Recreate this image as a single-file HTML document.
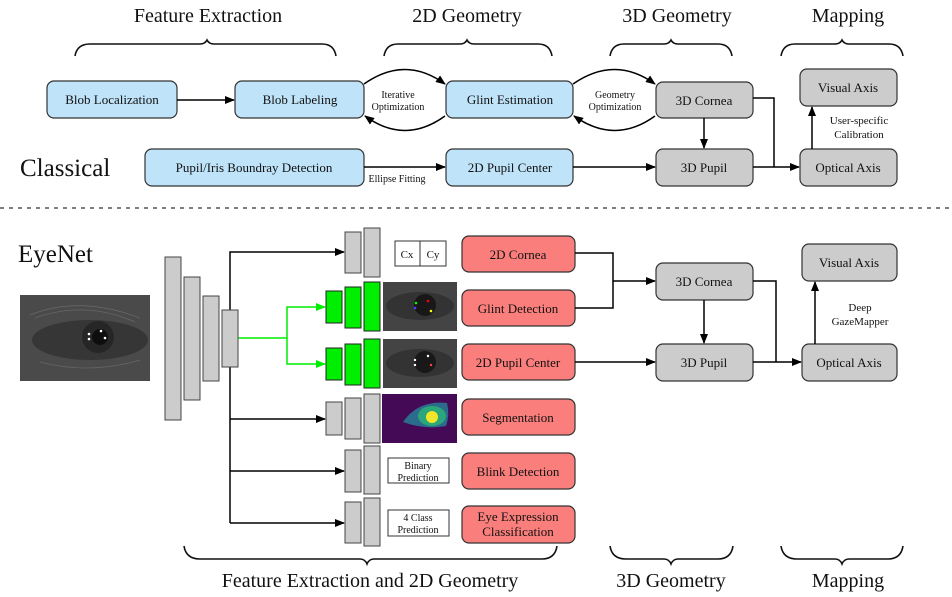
<!DOCTYPE html>
<html><head><meta charset="utf-8"><style>
html,body{margin:0;padding:0;background:#fff;}
svg{display:block;font-family:"Liberation Serif",serif;}
</style></head><body>
<svg width="952" height="597" viewBox="0 0 952 597" xmlns="http://www.w3.org/2000/svg">
<defs>
<marker id="ah" markerWidth="10" markerHeight="8" refX="9" refY="4" orient="auto" markerUnits="userSpaceOnUse"><path d="M0,0 L10,4 L0,8 z" fill="#000"/></marker>
<marker id="ag" markerWidth="10" markerHeight="8" refX="9" refY="4" orient="auto" markerUnits="userSpaceOnUse"><path d="M0,0 L10,4 L0,8 z" fill="#00ee00"/></marker>
</defs>
<g font-size="20" text-anchor="middle" fill="#111">
<text x="208" y="22">Feature Extraction</text>
<text x="467" y="22">2D Geometry</text>
<text x="677" y="22">3D Geometry</text>
<text x="848" y="22">Mapping</text>
<text x="370" y="587">Feature Extraction and 2D Geometry</text>
<text x="671" y="587">3D Geometry</text>
<text x="848" y="587">Mapping</text>
</g>
<g fill="none" stroke="#111" stroke-width="1.6">
<path d="M75,56 Q77,44 90,44 L200,44 Q205,44 207,40 Q209,44 214,44 L322,44 Q334,44 336,56"/>
<path d="M384,56 Q386,44 398,44 L460,44 Q465,44 467,40 Q469,44 474,44 L538,44 Q550,44 552,56"/>
<path d="M610,56 Q612,44 624,44 L664,44 Q669,44 671,40 Q673,44 678,44 L718,44 Q730,44 732,56"/>
<path d="M781,56 Q783,44 795,44 L835,44 Q840,44 842,40 Q844,44 849,44 L889,44 Q901,44 903,56"/>
<path d="M184,546 Q186,559 200,559 L360,559 Q365,559 367,564 Q369,559 374,559 L542,559 Q555,559 557,546"/>
<path d="M610,546 Q612,559 626,559 L664,559 Q669,559 671,564 Q673,559 678,559 L718,559 Q731,559 733,546"/>
<path d="M781,546 Q783,559 797,559 L835,559 Q840,559 842,564 Q844,559 849,559 L888,559 Q901,559 903,546"/>
</g>
<line x1="0" y1="208" x2="952" y2="208" stroke="#333" stroke-width="1.3" stroke-dasharray="4,5"/>
<text x="20" y="176" font-size="25" fill="#111">Classical</text>
<text x="18" y="262" font-size="25" fill="#111">EyeNet</text>
<g stroke="#333" stroke-width="1.2">
<rect x="47" y="81" width="130" height="37" rx="7" fill="#bfe3f8"/>
<rect x="235" y="81" width="129" height="37" rx="7" fill="#bfe3f8"/>
<rect x="446" y="81" width="127" height="37" rx="7" fill="#bfe3f8"/>
<rect x="145" y="149" width="219" height="37" rx="7" fill="#bfe3f8"/>
<rect x="446" y="149" width="127" height="37" rx="7" fill="#bfe3f8"/>
<rect x="656" y="82" width="97" height="36" rx="7" fill="#cccccc"/>
<rect x="656" y="149" width="97" height="37" rx="7" fill="#cccccc"/>
<rect x="800" y="69" width="97" height="37" rx="7" fill="#cccccc"/>
<rect x="800" y="149" width="97" height="37" rx="7" fill="#cccccc"/>
<rect x="656" y="263" width="97" height="37" rx="7" fill="#cccccc"/>
<rect x="656" y="344" width="97" height="37" rx="7" fill="#cccccc"/>
<rect x="802" y="244" width="95" height="37" rx="7" fill="#cccccc"/>
<rect x="802" y="344" width="95" height="37" rx="7" fill="#cccccc"/>
<rect x="462" y="236" width="113" height="36" rx="7" fill="#fa7f7c"/>
<rect x="462" y="290" width="113" height="36" rx="7" fill="#fa7f7c"/>
<rect x="462" y="344" width="113" height="36" rx="7" fill="#fa7f7c"/>
<rect x="462" y="399" width="113" height="36" rx="7" fill="#fa7f7c"/>
<rect x="462" y="453" width="113" height="36" rx="7" fill="#fa7f7c"/>
<rect x="462" y="506" width="113" height="37" rx="7" fill="#fa7f7c"/>
</g>
<g font-size="13" text-anchor="middle" fill="#111">
<text x="112" y="104">Blob Localization</text>
<text x="300" y="104">Blob Labeling</text>
<text x="510" y="104">Glint Estimation</text>
<text x="254" y="172">Pupil/Iris Boundray Detection</text>
<text x="510" y="172">2D Pupil Center</text>
<text x="704" y="105">3D Cornea</text>
<text x="704" y="172">3D Pupil</text>
<text x="848" y="92">Visual Axis</text>
<text x="848" y="172">Optical Axis</text>
<text x="704" y="286">3D Cornea</text>
<text x="704" y="367">3D Pupil</text>
<text x="849" y="267">Visual Axis</text>
<text x="849" y="367">Optical Axis</text>
<text x="518" y="259">2D Cornea</text>
<text x="518" y="313">Glint Detection</text>
<text x="518" y="367">2D Pupil Center</text>
<text x="518" y="422">Segmentation</text>
<text x="518" y="476">Blink Detection</text>
<text x="518" y="521">Eye Expression</text>
<text x="518" y="536">Classification</text>
</g>
<g font-size="10" text-anchor="middle" fill="#111">
<text x="398" y="98">Iterative</text>
<text x="398" y="110">Optimization</text>
<text x="615" y="98">Geometry</text>
<text x="615" y="110">Optimization</text>
<text x="397" y="182">Ellipse Fitting</text>
<text x="859" y="124" font-size="11">User-specific</text>
<text x="859" y="138" font-size="11">Calibration</text>
<text x="860" y="311" font-size="11">Deep</text>
<text x="860" y="325" font-size="11">GazeMapper</text>
</g>
<g fill="none" stroke="#000" stroke-width="1.5">
<line x1="177" y1="100" x2="234" y2="100" marker-end="url(#ah)"/>
<path d="M364,84 Q405,55 445,84" marker-end="url(#ah)"/>
<path d="M445,116 Q405,145 365,116" marker-end="url(#ah)"/>
<path d="M573,84 Q615,55 655,84" marker-end="url(#ah)"/>
<path d="M655,116 Q615,145 574,116" marker-end="url(#ah)"/>
<line x1="364" y1="167" x2="445" y2="167" marker-end="url(#ah)"/>
<line x1="573" y1="167" x2="655" y2="167" marker-end="url(#ah)"/>
<line x1="704" y1="118" x2="704" y2="148" marker-end="url(#ah)"/>
<line x1="753" y1="167" x2="799" y2="167" marker-end="url(#ah)"/>
<path d="M753,98 L774,98 L774,167"/>
<line x1="812" y1="149" x2="812" y2="107" marker-end="url(#ah)"/>
<path d="M575,253 L613,253 L613,308 L575,308"/>
<line x1="613" y1="281" x2="655" y2="281" marker-end="url(#ah)"/>
<line x1="704" y1="300" x2="704" y2="343" marker-end="url(#ah)"/>
<line x1="575" y1="362" x2="655" y2="362" marker-end="url(#ah)"/>
<line x1="753" y1="362" x2="801" y2="362" marker-end="url(#ah)"/>
<path d="M753,281 L776,281 L776,362"/>
<line x1="815" y1="344" x2="815" y2="282" marker-end="url(#ah)"/>
<path d="M230,310 L230,252 L344,252" marker-end="url(#ah)"/>
<path d="M230,367 L230,523"/>
<line x1="230" y1="419" x2="325" y2="419" marker-end="url(#ah)"/>
<line x1="230" y1="471" x2="344" y2="471" marker-end="url(#ah)"/>
<line x1="230" y1="523" x2="344" y2="523" marker-end="url(#ah)"/>
</g>
<g fill="none" stroke="#00ee00" stroke-width="1.5">
<path d="M238,338 L287,338 L287,307 L325,307" marker-end="url(#ag)"/>
<path d="M287,338 L287,364 L325,364" marker-end="url(#ag)"/>
</g>
<rect x="20" y="295" width="130" height="86" fill="#4a4a4a"/>
<g stroke="#666" stroke-width="0.8" fill="none">
<path d="M30,315 Q80,295 140,318"/><path d="M35,318 Q85,300 135,322"/><path d="M40,362 Q90,375 140,360"/>
</g>
<ellipse cx="90" cy="340" rx="58" ry="20" fill="#363636"/>
<circle cx="98" cy="337" r="16" fill="#262626"/>
<circle cx="100" cy="337" r="8" fill="#0e0e0e"/>
<circle cx="89" cy="334" r="1.3" fill="#fff"/><circle cx="89" cy="339" r="1.3" fill="#fff"/><circle cx="101" cy="331" r="1.3" fill="#fff"/><circle cx="105" cy="338" r="1.3" fill="#fff"/>
<g stroke="#444" stroke-width="1" fill="#cccccc">
<rect x="165" y="257" width="16" height="163"/>
<rect x="184" y="277" width="16" height="123"/>
<rect x="203" y="296" width="16" height="85"/>
<rect x="222" y="310" width="16" height="57"/>
<rect x="345" y="232" width="16" height="41"/>
<rect x="364" y="228" width="16" height="49"/>
<rect x="326" y="402" width="16" height="33"/>
<rect x="345" y="398" width="16" height="41"/>
<rect x="364" y="394" width="16" height="49"/>
<rect x="345" y="450" width="16" height="42"/>
<rect x="364" y="446" width="16" height="48"/>
<rect x="345" y="502" width="16" height="41"/>
<rect x="364" y="498" width="16" height="48"/>
</g>
<g stroke="#222" stroke-width="1" fill="#00ee00">
<rect x="326" y="291" width="16" height="32"/>
<rect x="345" y="287" width="16" height="41"/>
<rect x="364" y="282" width="16" height="49"/>
<rect x="326" y="348" width="16" height="32"/>
<rect x="345" y="344" width="16" height="41"/>
<rect x="364" y="339" width="16" height="49"/>
</g>
<rect x="383" y="282" width="74" height="49" fill="#444"/>
<ellipse cx="420" cy="306" rx="34" ry="14" fill="#333"/><circle cx="425" cy="305" r="11" fill="#181818"/>
<circle cx="416" cy="303" r="1.3" fill="#0f0"/><circle cx="415" cy="308" r="1.3" fill="#44f"/><circle cx="428" cy="301" r="1.3" fill="#f00"/><circle cx="431" cy="311" r="1.3" fill="#ff0"/>
<rect x="383" y="339" width="74" height="49" fill="#444"/>
<ellipse cx="420" cy="363" rx="34" ry="14" fill="#333"/><circle cx="425" cy="362" r="11" fill="#181818"/>
<circle cx="415" cy="360" r="1.2" fill="#fff"/><circle cx="415" cy="365" r="1.2" fill="#fff"/><circle cx="428" cy="356" r="1.2" fill="#fff"/><circle cx="431" cy="365" r="1.2" fill="#f44"/>
<rect x="382" y="394" width="75" height="49" fill="#440a56"/>
<path d="M403,422 Q418,400 447,403 Q450,415 446,426 Q425,430 403,422 z" fill="#2b6b8b"/>
<ellipse cx="432" cy="416" rx="14" ry="10" fill="#2ba77a"/>
<circle cx="432" cy="417" r="6" fill="#f4e62a"/>
<g stroke="#333" stroke-width="1" fill="#fff">
<rect x="395" y="241" width="25" height="25"/><rect x="420" y="241" width="26" height="25"/>
<rect x="388" y="458" width="61" height="25"/>
<rect x="388" y="510" width="61" height="26"/>
</g>
<g font-size="11" text-anchor="middle" fill="#111">
<text x="407" y="258">Cx</text><text x="433" y="258">Cy</text>
<text x="418" y="469" font-size="10">Binary</text><text x="418" y="481" font-size="10">Prediction</text>
<text x="418" y="521" font-size="10">4 Class</text><text x="418" y="533" font-size="10">Prediction</text>
</g>
</svg>
</body></html>
